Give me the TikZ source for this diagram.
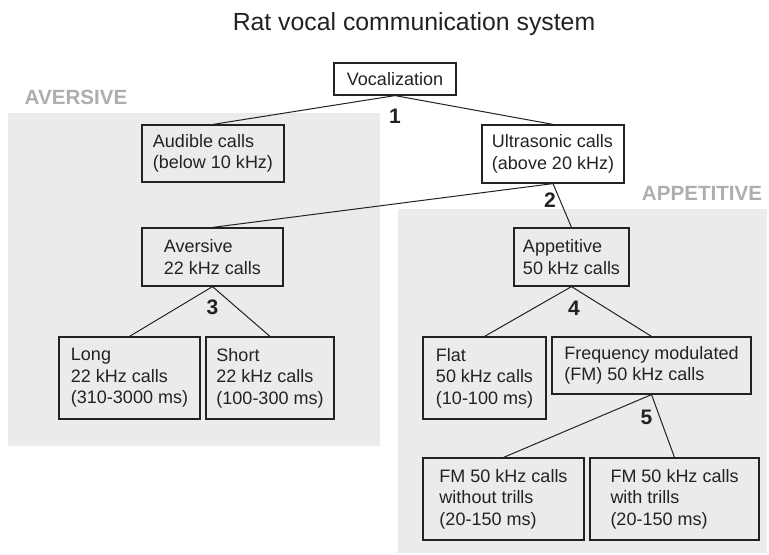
\documentclass[tikz,border=0pt]{standalone}
\usepackage{fontspec}
\setmainfont{Liberation Sans}
\usetikzlibrary{positioning}
\definecolor{regiongray}{HTML}{EBEBEB}
\definecolor{labelgray}{HTML}{AEAEAE}
\definecolor{inkgray}{HTML}{222222}

\begin{document}
\begin{tikzpicture}[x=0.5pt,y=-0.5pt]

        \useasboundingbox (0,0) rectangle (769,555);

        \fill[regiongray] (8,113) rectangle (380,446);
        \fill[regiongray] (398,209) rectangle (767,553);

        \begin{scope}[every node/.style={text=labelgray,font=\fontsize{10.3}{12}\selectfont\bfseries}]
          \node (avlabel) at (76,97)   {AVERSIVE};
          \node (aplabel) at (702,193) {APPETITIVE};
        \end{scope}

        \node[text=inkgray,font=\fontsize{12.4}{14}\selectfont] (title) at (414,24) {Rat vocal communication system};

        \begin{scope}[every node/.style={draw=inkgray,line width=0.6pt,align=left,inner sep=0pt,
            text=inkgray,font=\fontsize{9}{10.8}\selectfont}]
          \node[minimum width=61pt,minimum height=16pt]     (voc)   at (395,79)      {Vocalization};
          \node[minimum width=71pt,minimum height=28.5pt]   (aud)   at (213,153.5)   {Audible calls\\(below 10 kHz)};
          \node[minimum width=71pt,minimum height=29pt]     (ult)   at (553,154)     {Ultrasonic calls\\(above 20 kHz)};
          \node[minimum width=70.5pt,minimum height=29pt]   (avr)   at (212.5,257)   {Aversive\\22 kHz calls};
          \node[minimum width=57.5pt,minimum height=29pt]   (app)   at (571.5,257)   {Appetitive\\50 kHz calls};
          \node[minimum width=70.5pt,minimum height=41pt]   (long)  at (129.5,378)   {Long\\22 kHz calls\\(310-3000 ms)};
          \node[minimum width=64pt,minimum height=41pt]     (short) at (270,378)     {Short\\22 kHz calls\\(100-300 ms)};
          \node[minimum width=61.5pt,minimum height=41pt]   (flat)  at (484.5,378)   {Flat\\50 kHz calls\\(10-100 ms)};
          \node[minimum width=99.5pt,minimum height=28.5pt] (fm)    at (651.5,365.5) {Frequency modulated\\(FM) 50 kHz calls};
          \node[minimum width=80.5pt,minimum height=41pt]   (fmwo)  at (503.5,499)   {FM 50 kHz calls\\without trills\\(20-150 ms)};
          \node[minimum width=84.5pt,minimum height=41pt]   (fmwt)  at (674.5,499)   {FM 50 kHz calls\\with trills\\(20-150 ms)};
        \end{scope}

        \begin{scope}[every edge/.style={draw=inkgray,line width=0.5pt}]
          \path (voc.south) edge (aud.north);
          \path (voc.south) edge (ult.north);
          \path (ult.south) edge (avr.north);
          \path (ult.south) edge (app.north);
          \path (avr.south) edge (long.north);
          \path (avr.south) edge (short.north);
          \path (app.south) edge (flat.north);
          \path (app.south) edge (fm.north);
          \path (fm.south)  edge (fmwo.north);
          \path (fm.south)  edge (fmwt.north);
        \end{scope}

        \begin{scope}[every node/.style={text=inkgray,font=\fontsize{10.5}{12}\selectfont\bfseries}]
          \node (split1) at ([yshift=-10.5pt]voc.south)              {1};
          \node (split2) at ([xshift=-1.5pt,yshift=-8.5pt]ult.south)  {2};
          \node (split3) at ([yshift=-10.5pt]avr.south)              {3};
          \node (split4) at ([xshift=1.2pt,yshift=-11pt]app.south)    {4};
          \node (split5) at ([xshift=-2.5pt,yshift=-11.5pt]fm.south)  {5};
        \end{scope}

      \end{tikzpicture}
\end{document}
